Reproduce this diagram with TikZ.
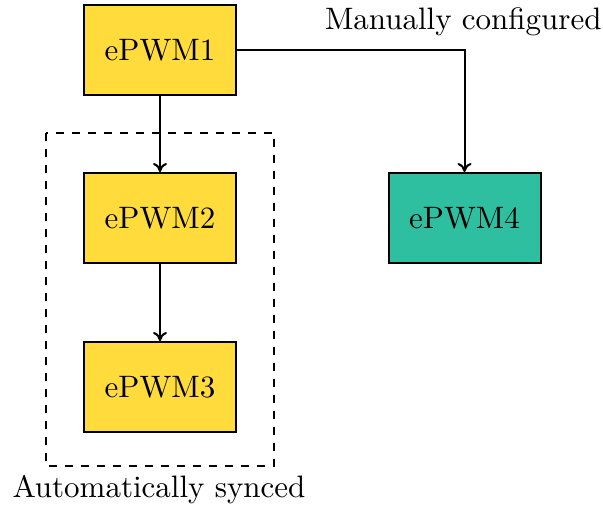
\documentclass[tikz,border=0pt]{standalone}
\usetikzlibrary{arrows.meta}
\definecolor{pwmyellow}{RGB}{255,220,60}
\definecolor{pwmteal}{RGB}{46,190,160}
% 10pt design size, enlarged
\newcommand{\bigtext}[1]{\scalebox{1.55}{#1}}
\begin{document}
\begin{tikzpicture}[x=0.5pt,y=-0.5pt,
  pwm/.style={draw=black, line width=1pt, minimum width=76pt, minimum height=45pt, inner sep=0pt},
  link/.style={line width=1pt, -{To[length=4.5pt,width=7pt]}},
  groupbox/.style={draw=black, line width=1pt, dash pattern=on 4pt off 4pt}]
  \useasboundingbox (0,0) rectangle (603,509);
  % synchronised group
  \draw[groupbox] (46,133) rectangle (274,466);
  \node[inner sep=0pt] (auto) at (159,490) {\bigtext{Automatically synced}};
  % modules
  \node[pwm, fill=pwmyellow] (e1) at (160,50) {\bigtext{ePWM1}};
  \node[pwm, fill=pwmyellow] (e2) at (160,218) {\bigtext{ePWM2}};
  \node[pwm, fill=pwmyellow] (e3) at (160,387) {\bigtext{ePWM3}};
  \node[pwm, fill=pwmteal] (e4) at (464.5,218) {\bigtext{ePWM4}};
  \node[anchor=east, inner sep=0pt] (manual) at (602,22) {\bigtext{Manually configured}};
  % sync connections
  \draw[link] (e1) -- (e2);
  \draw[link] (e2) -- (e3);
  \draw[link] (e1.east) -| (e4.north);
\end{tikzpicture}
\end{document}
